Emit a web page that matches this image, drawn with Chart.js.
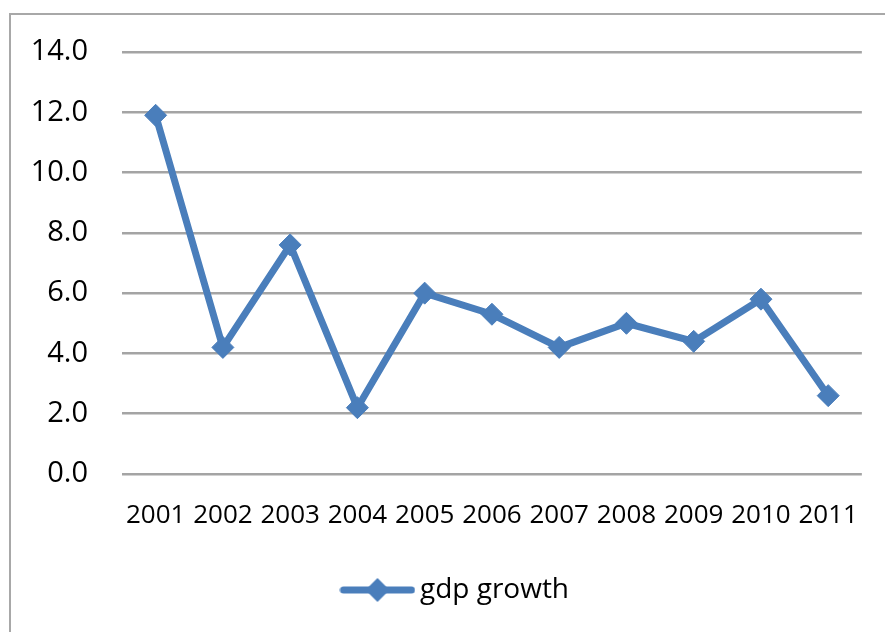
<!DOCTYPE html>
<html lang="en">
<head>
    <meta charset="UTF-8">
    <title>gdp growth</title>
    <script src="https://cdn.jsdelivr.net/npm/chart.js"></script>
    <style>
        body { margin: 0; background: #fff; overflow: hidden; }
        .wrap { position: relative; width: 885px; height: 632px; }
        .frame { position: absolute; left: 9px; top: 13px; width: 900px; height: 700px; border: 2px solid #a8a8a8; }
        #myChart { position: absolute; left: 0; top: 0; }
    </style>
</head>
<body>
    <div class="wrap">
        <div class="frame"></div>
        <canvas id="myChart" width="885" height="632"></canvas>
    </div>

<script>
    // dados
    const anos = ['2001', '2002', '2003', '2004', '2005', '2006', '2007', '2008', '2009', '2010', '2011'];
    const gdpGrowth = [11.9, 4.2, 7.6, 2.2, 6.0, 5.3, 4.2, 5.0, 4.4, 5.8, 2.6];
    const yMin = 0;
    const yMax = 14;
    const yStep = 2;

    const azul = '#4a7ebb';
    const texto = '#000';

    // marcador da legenda: linha + losango
    const legendaImg = document.createElement('canvas');
    legendaImg.width = 76;
    legendaImg.height = 26;
    (function () {
        const c = legendaImg.getContext('2d');
        c.strokeStyle = azul;
        c.lineWidth = 7;
        c.lineCap = 'round';
        c.beginPath();
        c.moveTo(4, 13);
        c.lineTo(72, 13);
        c.stroke();
        c.fillStyle = azul;
        c.beginPath();
        c.moveTo(38 - 12, 13);
        c.lineTo(38, 1);
        c.lineTo(38 + 12, 13);
        c.lineTo(38, 25);
        c.closePath();
        c.fill();
    })();

    // empurra a legenda um pouco para a direita, como no original
    const moverLegenda = {
        id: 'moverLegenda',
        afterLayout: function (chart) {
            chart.legend.left += 23;
            chart.legend.right += 23;
        }
    };

    const data = {
        labels: anos,
        datasets: [{
            label: 'gdp growth',
            data: gdpGrowth,
            borderColor: azul,
            backgroundColor: azul,
            borderWidth: 7,
            pointStyle: 'rectRot',
            pointRadius: 11,
            pointBorderWidth: 1,
            pointBorderColor: azul,
            pointBackgroundColor: azul,
            tension: 0,
            fill: false
        }]
    };

    const config = {
        type: 'line',
        data: data,
        plugins: [moverLegenda],
        options: {
            responsive: false,
            animation: false,
            devicePixelRatio: 1,
            layout: { padding: { left: 10, right: 23, top: 52, bottom: 18 } },
            plugins: {
                tooltip: { enabled: false },
                legend: {
                    position: 'bottom',
                    labels: {
                        usePointStyle: true,
                        pointStyleWidth: 57,
                        color: texto,
                        font: { family: 'Open Sans', size: 28 },
                        generateLabels: function (chart) {
                            return chart.data.datasets.map((ds, i) => ({
                                text: ds.label,
                                pointStyle: legendaImg,
                                fillStyle: azul,
                                strokeStyle: azul,
                                lineWidth: 0,
                                fontColor: texto,
                                datasetIndex: i
                            }));
                        }
                    }
                }
            },
            scales: {
                x: {
                    offset: true,
                    grid: { display: false, drawTicks: false },
                    border: { display: false },
                    ticks: {
                        padding: 26,
                        color: texto,
                        maxRotation: 0,
                        autoSkip: false,
                        font: { family: 'Open Sans', size: 26 }
                    },
                    afterFit: function (scale) { scale.height = 92; }
                },
                y: {
                    min: yMin,
                    max: yMax,
                    grid: { color: '#a4a4a4', lineWidth: 2.5, drawTicks: false },
                    border: { display: false },
                    ticks: {
                        stepSize: yStep,
                        padding: 34,
                        color: texto,
                        font: { family: 'Open Sans', size: 29 },
                        callback: function (v) { return Number(v).toFixed(1); }
                    },
                    afterFit: function (scale) { scale.width = 112; }
                }
            }
        }
    };

    const myChart = new Chart(document.getElementById('myChart'), config);
</script>
</body>
</html>
